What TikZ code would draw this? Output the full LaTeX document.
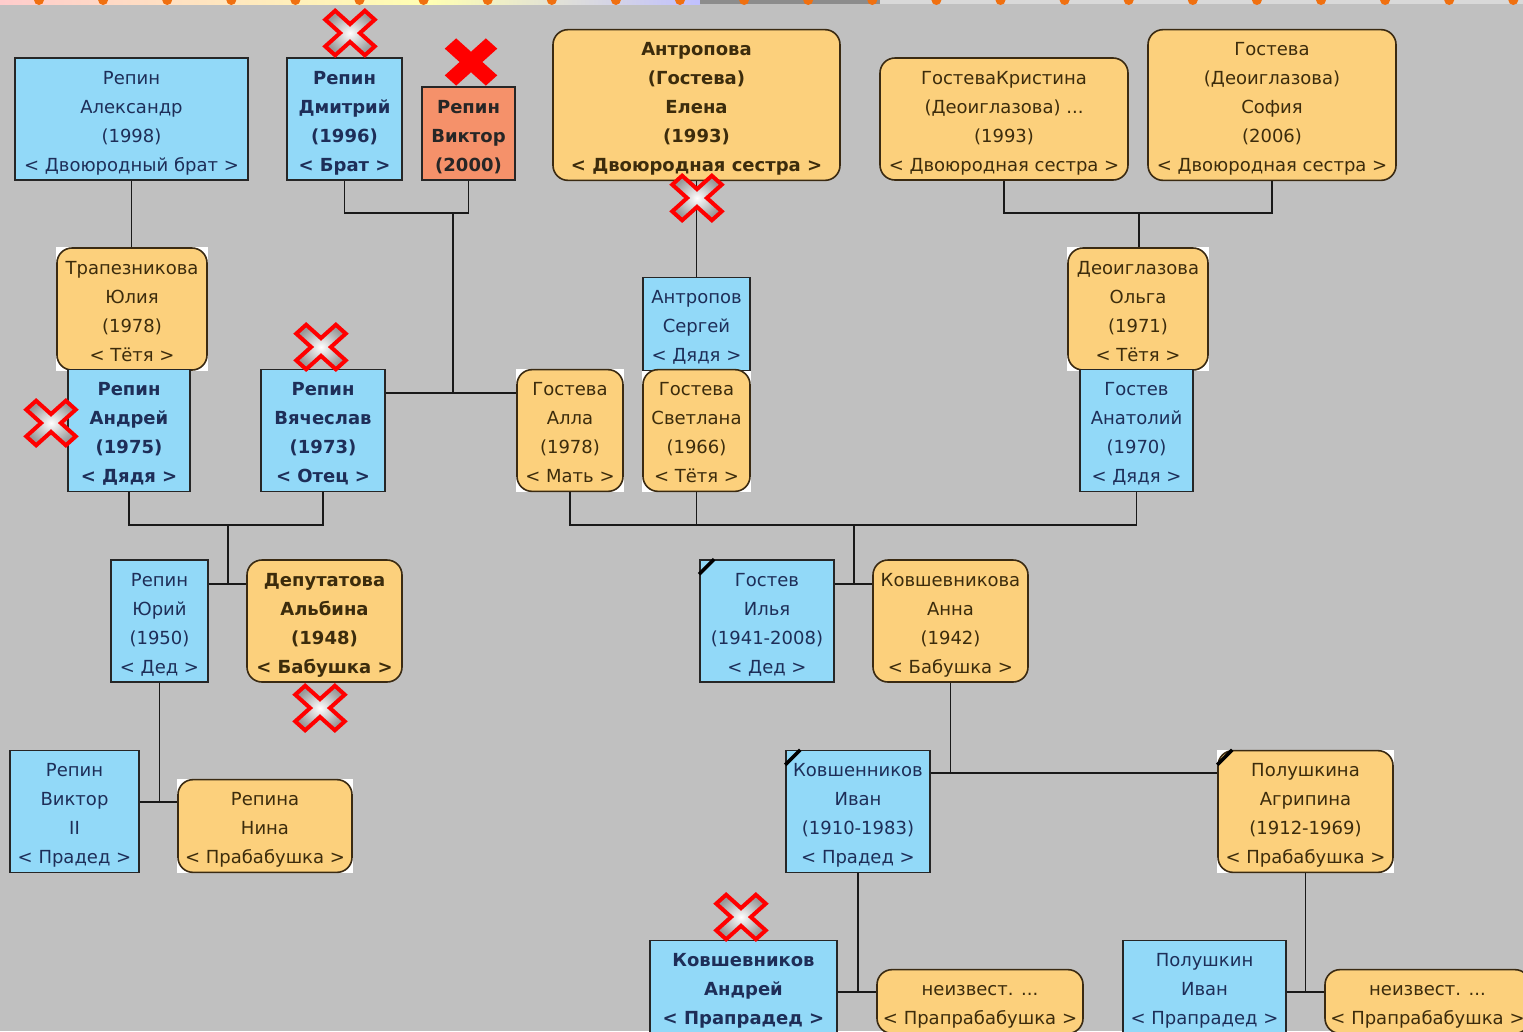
\documentclass[tikz,border=0pt]{standalone}
\usepackage{fontspec}
\setmainfont{DejaVu Sans}
\usetikzlibrary{backgrounds}

\definecolor{bggray}{HTML}{C0C0C0}
\definecolor{manblue}{HTML}{92D9F8}
\definecolor{womanorange}{HTML}{FCD07C}
\definecolor{selfred}{HTML}{F5916A}
\definecolor{mantext}{HTML}{1E2E58}
\definecolor{womantext}{HTML}{3C2C0C}
\definecolor{womanedge}{HTML}{3A2A12}
\definecolor{tabdot}{HTML}{F07010}

\newcommand{\persfont}{\fontsize{18}{29}\selectfont}
% lines of one card, set a little low as in the program's cards
\newcommand{\famtext}[1]{\begin{tabular}{@{}c@{}}\rule{0pt}{26pt}#1\end{tabular}}

\tikzset{
    box/.style 2 args={minimum width=#1, minimum height=#2},
    person/.style={draw, line width=1.6, inner sep=0pt, font=\persfont},
    man/.style={person, draw=black!85, fill=manblue, text=mantext},
    self/.style={person, draw=black!85, fill=selfred, text=black!85, font=\persfont\bfseries},
    woman/.style={person, rounded corners=15, draw=womanedge, fill=womanorange, text=womantext},
    direct/.style={font=\persfont\bfseries},
    link/.style={line width=1.6, black!90},
    deadmark/.style={line width=3.5, black},
    pics/delcross/.style={code={
        \shadedraw[draw=red, line width=4, inner color=white, outer color=black!40,
                   yscale=0.9, rotate=45]
          (-7,28) -- (7,28) -- (7,7) -- (28,7) -- (28,-7) -- (7,-7) -- (7,-28)
          -- (-7,-28) -- (-7,-7) -- (-28,-7) -- (-28,7) -- (-7,7) -- cycle;}},
    pics/delcrossfill/.style={code={
        \filldraw[draw=red, fill=red, line width=2, yscale=0.9, rotate=45]
          (-7,28) -- (7,28) -- (7,7) -- (28,7) -- (28,-7) -- (7,-7) -- (7,-28)
          -- (-7,-28) -- (-7,-7) -- (-28,-7) -- (-28,7) -- (-7,7) -- cycle;}}
}

\begin{document}
\begin{tikzpicture}[x=1pt, y=-1pt]

    %--------------------%
    % Frame
    %--------------------%
    \useasboundingbox (0,0) rectangle (1523,1031);
    \clip (0,0) rectangle (1523,1031);

    %--------------------%
    % Generation 1 (cousins, siblings)
    %--------------------%
    \node[man, box={233}{122}] (alex) at (131.5,119) {\famtext{Репин\\Александр\\(1998)\\< Двоюродный брат >}};
    \node[man, direct, box={115}{122}] (dmitry) at (344.5,119) {\famtext{Репин\\Дмитрий\\(1996)\\< Брат >}};
    \node[self, box={93}{93}] (viktor) at (468.5,133.5) {\famtext{Репин\\Виктор\\(2000)}};
    \node[woman, direct, box={287}{150}] (elena) at (696.5,105) {\famtext{Антропова\\(Гостева)\\Елена\\(1993)\\< Двоюродная сестра >}};
    \node[woman, box={248}{122}] (kristina) at (1004,119) {\famtext{ГостеваКристина\\(Деоиглазова) ...\\(1993)\\< Двоюродная сестра >}};
    \node[woman, box={248}{150}] (sofia) at (1272,105) {\famtext{Гостева\\(Деоиглазова)\\София\\(2006)\\< Двоюродная сестра >}};

    %--------------------%
    % Generation 2 (parents, uncles, aunts)
    %--------------------%
    \node[woman, box={150}{122}] (yulia) at (132,309) {\famtext{Трапезникова\\Юлия\\(1978)\\< Тётя >}};
    \node[man, direct, box={122}{121}] (andrey) at (129,430.5) {\famtext{Репин\\Андрей\\(1975)\\< Дядя >}};
    \node[man, direct, box={124}{121}] (slava) at (323,430.5) {\famtext{Репин\\Вячеслав\\(1973)\\< Отец >}};
    \node[woman, box={106}{121}] (alla) at (570,430.5) {\famtext{Гостева\\Алла\\(1978)\\< Мать >}};
    \node[man, box={107}{92}] (sergey) at (696.5,324) {\famtext{Антропов\\Сергей\\< Дядя >}};
    \node[woman, box={107}{121}] (sveta) at (696.5,430.5) {\famtext{Гостева\\Светлана\\(1966)\\< Тётя >}};
    \node[woman, box={140}{122}] (olga) at (1138,309) {\famtext{Деоиглазова\\Ольга\\(1971)\\< Тётя >}};
    \node[man, box={113}{121}] (anatoly) at (1136.5,430.5) {\famtext{Гостев\\Анатолий\\(1970)\\< Дядя >}};

    %--------------------%
    % Generation 3 (grandparents)
    %--------------------%
    \node[man, box={97}{122}] (yury) at (159.5,621) {\famtext{Репин\\Юрий\\(1950)\\< Дед >}};
    \node[woman, direct, box={155}{122}] (albina) at (324.5,621) {\famtext{Депутатова\\Альбина\\(1948)\\< Бабушка >}};
    \node[man, box={134}{122}] (ilya) at (767,621) {\famtext{Гостев\\Илья\\(1941-2008)\\< Дед >}};
    \node[woman, box={155}{122}] (anna) at (950.5,621) {\famtext{Ковшевникова\\Анна\\(1942)\\< Бабушка >}};

    %--------------------%
    % Generation 4 (great-grandparents)
    %--------------------%
    \node[man, box={129}{121}] (viktor2) at (74.5,811.5) {\famtext{Репин\\Виктор\\II\\< Прадед >}};
    \node[woman, box={174}{92}] (nina) at (265,826) {\famtext{Репина\\Нина\\< Прабабушка >}};
    \node[man, box={144}{121}] (ivan) at (858,811.5) {\famtext{Ковшенников\\Иван\\(1910-1983)\\< Прадед >}};
    \node[woman, box={175}{121}] (agripina) at (1305.5,811.5) {\famtext{Полушкина\\Агрипина\\(1912-1969)\\< Прабабушка >}};

    %--------------------%
    % Generation 5 (cut at the bottom)
    %--------------------%
    \node[man, direct, box={187}{92}] (kandrey) at (743.5,987) {\famtext{Ковшевников\\Андрей\\< Прапрадед >}};
    \node[woman, box={206}{63}] (unknown1) at (980,1001.5) {\famtext{неизвест. ...\\< Прапрабабушка >}};
    \node[man, box={163}{92}] (polushkin) at (1204.5,987) {\famtext{Полушкин\\Иван\\< Прапрадед >}};
    \node[woman, box={205}{63}] (unknown2) at (1427.5,1001.5) {\famtext{неизвест. ...\\< Прапрабабушка >}};

    %--------------------%
    % Junctions
    %--------------------%
    \coordinate (jkids1) at (453,213);
    \coordinate (jpar1) at (453,393);
    \coordinate (jkids2) at (1139,213);
    \coordinate (jsib1) at (228,525);
    \coordinate (jgp1) at (228,584);
    \coordinate (jsib2) at (854,525);
    \coordinate (jgp2) at (854,584);
    \coordinate (jgg1) at (160,802);
    \coordinate (jgg2) at (950,773);
    \coordinate (jggg1) at (858,992);
    \coordinate (jggg2) at (1306,992);

    %--------------------%
    % Connections
    %--------------------%
    \draw[link] (alex.south) -- (alex.south |- yulia.north);
    \draw[link] (dmitry.south) |- (jkids1) -| (viktor.south);
    \draw[link] (jkids1) -- (jpar1);
    \draw[link] (slava.east |- jpar1) -- (alla.west |- jpar1);
    \draw[link] (elena.south) -- (sergey.north);
    \draw[link] (kristina.south) |- (jkids2) -| (sofia.south);
    \draw[link] (jkids2) -- (jkids2 |- olga.north);

    \draw[link] (andrey.south) |- (jsib1) -| (slava.south);
    \draw[link] (jsib1) -- (jgp1);
    \draw[link] (yury.east |- jgp1) -- (albina.west |- jgp1);
    \draw[link] (alla.south) |- (anatoly.south |- jsib2) -- (anatoly.south);
    \draw[link] (sveta.south) -- (sveta.south |- jsib2);
    \draw[link] (jsib2) -- (jgp2);
    \draw[link] (ilya.east |- jgp2) -- (anna.west |- jgp2);

    \draw[link] (yury.south) -- (yury.south |- jgg1);
    \draw[link] (viktor2.east |- jgg1) -- (nina.west |- jgg1);
    \draw[link] (anna.south) -- (anna.south |- jgg2);
    \draw[link] (ivan.east |- jgg2) -- (agripina.west |- jgg2);

    \draw[link] (ivan.south) -- (ivan.south |- jggg1);
    \draw[link] (kandrey.east |- jggg1) -- (unknown1.west |- jggg1);
    \draw[link] (agripina.south) -- (agripina.south |- jggg2);
    \draw[link] (polushkin.east |- jggg2) -- (unknown2.west |- jggg2);

    %--------------------%
    % Marks
    %--------------------%
    \foreach \n in {ilya, ivan, agripina}
        \draw[deadmark] ([yshift=-15]\n.north west) -- ([xshift=15]\n.north west);

    \pic at (350,33) {delcross};
    \pic at (471,62) {delcrossfill};
    \pic at (697,198) {delcross};
    \pic at (51,423) {delcross};
    \pic at (321,347) {delcross};
    \pic at (320,708) {delcross};
    \pic at (741,917) {delcross};

    %--------------------%
    % Background
    %--------------------%
    \begin{scope}[on background layer]
        \fill[bggray] (0,0) rectangle (1523,1031);
        \foreach \n in {yulia, alla, sveta, olga, nina, agripina}
            \fill[white] (\n.south west) rectangle (\n.north east);
        \shade[left color=red!20, right color=yellow!30] (0,0) rectangle (430,4);
        \shade[left color=yellow!30, right color=blue!25] (430,0) rectangle (700,4);
        \fill[black!45] (700,0) rectangle (880,4);
        \fill[black!15] (880,0) rectangle (1523,4);
        \foreach \i in {0,...,23}
            \fill[tabdot] (39+64.1*\i,0) circle (5);
    \end{scope}
\end{tikzpicture}
\end{document}
